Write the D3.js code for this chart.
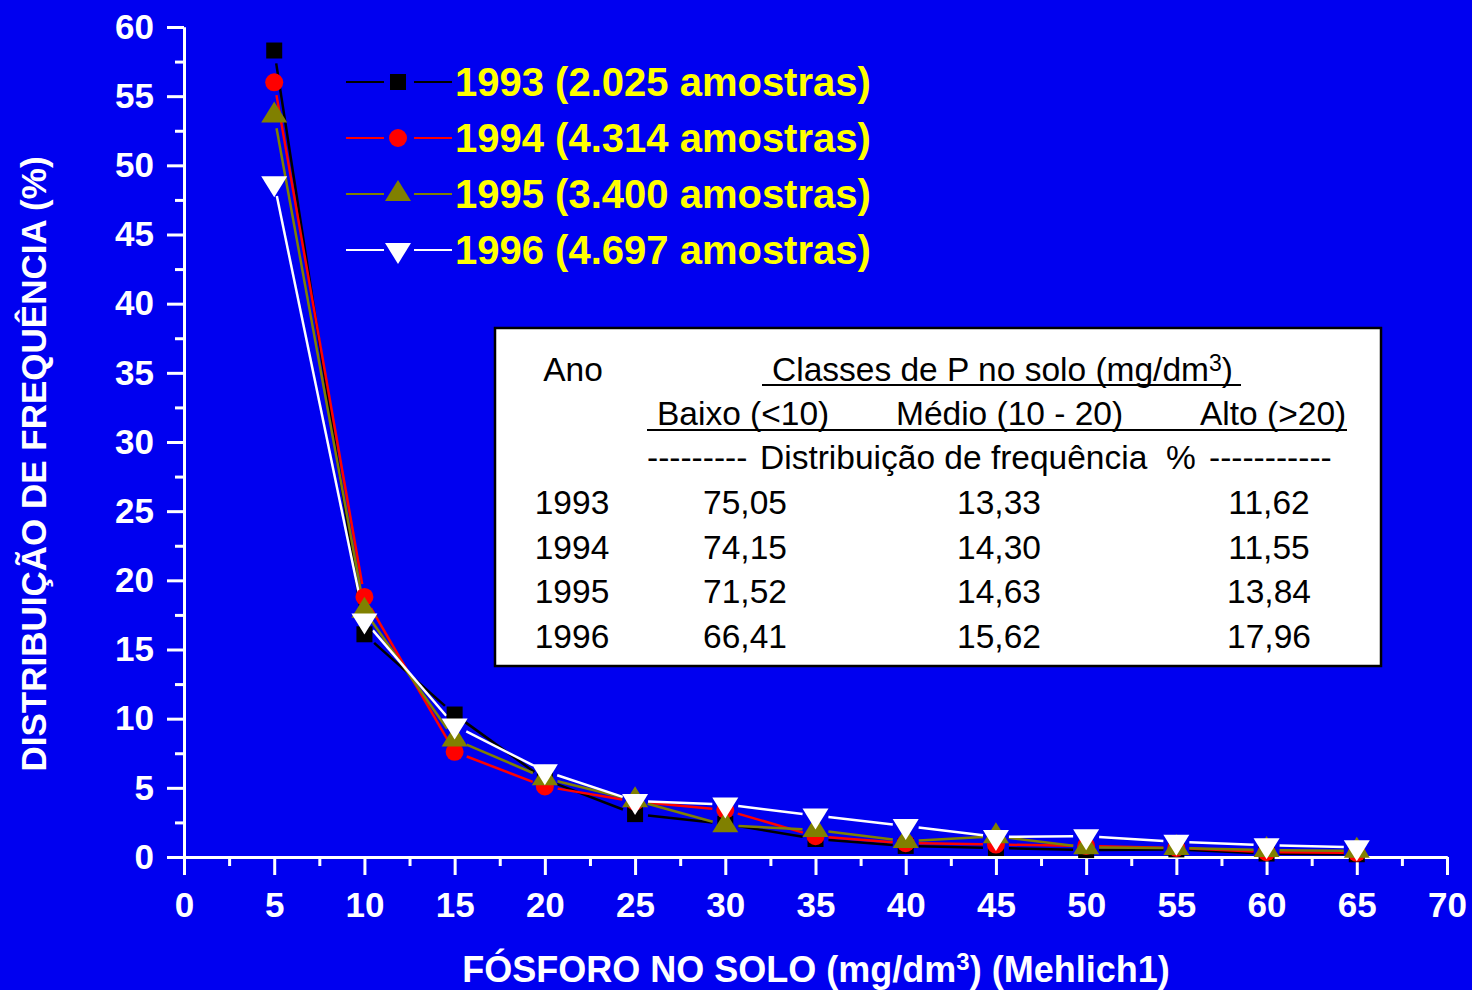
<!DOCTYPE html>
<html>
<head>
<meta charset="utf-8">
<script src="https://cdn.jsdelivr.net/npm/d3@7"></script>
<style>
  html, body { margin: 0; padding: 0; background: #0000F0; }
  svg { display: block; }
  text { font-family: "Liberation Sans", Arial, sans-serif; }
</style>
</head>
<body>
<div id="chart"></div>
<script>
// fósforo (mg/dm3)
var xValues = [5, 10, 15, 20, 25, 30, 35, 40, 45, 50, 55, 60, 65];

var y1993 = [58.3, 16.1, 10.3, 5.6, 3.1, 2.4, 1.3, 0.8, 0.65, 0.5, 0.55, 0.25, 0.2];
var y1994 = [56.0, 18.8, 7.6, 5.1, 4.0, 3.4, 1.5, 1.0, 0.9, 0.8, 0.65, 0.35, 0.3];
var y1995 = [53.6, 17.8, 8.5, 5.7, 4.1, 2.3, 1.95, 1.15, 1.5, 0.7, 0.65, 0.5, 0.45];
var y1996 = [48.7, 17.1, 9.5, 6.2, 4.05, 3.8, 3.0, 2.25, 1.45, 1.5, 1.1, 0.85, 0.7];

var seriesNames = ['1993 (2.025 amostras)', '1994 (4.314 amostras)', '1995 (3.400 amostras)', '1996 (4.697 amostras)'];

var xTicks = [0, 5, 10, 15, 20, 25, 30, 35, 40, 45, 50, 55, 60, 65, 70];
var yTicks = [0, 5, 10, 15, 20, 25, 30, 35, 40, 45, 50, 55, 60];

// tabela
var tableYears = ['1993', '1994', '1995', '1996'];
var tableBaixo = ['75,05', '74,15', '71,52', '66,41'];
var tableMedio = ['13,33', '14,30', '14,63', '15,62'];
var tableAlto = ['11,62', '11,55', '13,84', '17,96'];

var W = 1472, H = 990;

var svg = d3.select('#chart').append('svg')
    .attr('width', W)
    .attr('height', H);

svg.append('rect')
    .attr('width', W).attr('height', H)
    .attr('fill', '#0000F0');

var x = d3.scaleLinear().domain([0, 70]).range([184, 1447]);
var y = d3.scaleLinear().domain([0, 60]).range([857, 27]);

// eixos
svg.append('g')
    .attr('transform', 'translate(0,857)')
    .call(d3.axisBottom(x).tickValues(xTicks).tickSize(18).tickSizeOuter(0).tickPadding(17));
svg.append('g')
    .attr('transform', 'translate(0,857)')
    .call(d3.axisBottom(x).tickValues(d3.range(2.5, 70, 5)).tickSize(9).tickSizeOuter(0).tickFormat(''));

svg.append('g')
    .attr('transform', 'translate(184,0)')
    .call(d3.axisLeft(y).tickValues(yTicks).tickSize(17).tickSizeOuter(0).tickPadding(13));
svg.append('g')
    .attr('transform', 'translate(184,0)')
    .call(d3.axisLeft(y).tickValues(d3.range(2.5, 60, 5)).tickSize(9).tickSizeOuter(0).tickFormat(''));

svg.selectAll('.domain, .tick line')
    .attr('stroke', '#fff')
    .attr('stroke-width', 3);
svg.selectAll('.tick text')
    .attr('fill', '#fff')
    .style('font-size', '35px')
    .style('font-weight', 'bold')
    .style('font-family', '"Liberation Sans", Arial, sans-serif');

// títulos
var xt = svg.append('text')
    .attr('x', 816).attr('y', 982)
    .attr('text-anchor', 'middle')
    .attr('fill', '#fff')
    .style('font-size', '36px').style('font-weight', 'bold')
    .text('FÓSFORO NO SOLO (mg/dm');
xt.append('tspan').attr('dy', -12).style('font-size', '24px').text('3');
xt.append('tspan').attr('dy', 12).text(') (Mehlich1)');

svg.append('text')
    .attr('transform', 'translate(46,464) rotate(-90)')
    .attr('text-anchor', 'middle')
    .attr('fill', '#fff')
    .style('font-size', '35px').style('font-weight', 'bold')
    .text('DISTRIBUIÇÃO DE FREQUÊNCIA (%)');

// símbolos
function markerPath(kind) {
  if (kind === 'square') return 'M-8,-8H8V8H-8Z';
  if (kind === 'circle') return 'M9,0A9,9 0 1,1 -9,0A9,9 0 1,1 9,0Z';
  if (kind === 'up') return 'M0,-14L13,7L-13,7Z';
  return 'M0,14L13,-7L-13,-7Z';
}

var series = [
  {name: seriesNames[0], values: y1993, color: '#000000', marker: 'square'},
  {name: seriesNames[1], values: y1994, color: '#FF0000', marker: 'circle'},
  {name: seriesNames[2], values: y1995, color: '#808000', marker: 'up'},
  {name: seriesNames[3], values: y1996, color: '#FFFFFF', marker: 'down'}
];

var gap = 13;

series.forEach(function(s) {
  var segs = d3.pairs(xValues.map(function(v, i) { return [x(v), y(s.values[i])]; }))
      .map(function(p) {
        var dx = p[1][0] - p[0][0], dy = p[1][1] - p[0][1];
        var len = Math.sqrt(dx * dx + dy * dy);
        var ux = dx / len, uy = dy / len;
        return [p[0][0] + ux * gap, p[0][1] + uy * gap, p[1][0] - ux * gap, p[1][1] - uy * gap, len];
      })
      .filter(function(d) { return d[4] > 2 * gap; });

  svg.append('g').selectAll('line')
      .data(segs)
      .join('line')
      .attr('x1', function(d) { return d[0]; })
      .attr('y1', function(d) { return d[1]; })
      .attr('x2', function(d) { return d[2]; })
      .attr('y2', function(d) { return d[3]; })
      .attr('stroke', s.color)
      .attr('stroke-width', 2.5);
});

series.forEach(function(s) {
  svg.append('g').selectAll('path')
      .data(s.values)
      .join('path')
      .attr('transform', function(d, i) { return 'translate(' + x(xValues[i]) + ',' + y(d) + ')'; })
      .attr('d', markerPath(s.marker))
      .attr('fill', s.color);
});

// legenda
var legend = svg.append('g').selectAll('g')
    .data(series)
    .join('g')
    .attr('transform', function(d, i) { return 'translate(0,' + (82 + i * 56) + ')'; });

legend.append('line')
    .attr('x1', 346).attr('x2', 384).attr('y1', 0).attr('y2', 0)
    .attr('stroke', function(d) { return d.color; })
    .attr('stroke-width', 2);
legend.append('line')
    .attr('x1', 414).attr('x2', 452).attr('y1', 0).attr('y2', 0)
    .attr('stroke', function(d) { return d.color; })
    .attr('stroke-width', 2);
legend.append('path')
    .attr('transform', 'translate(398,0)')
    .attr('d', function(d) { return markerPath(d.marker); })
    .attr('fill', function(d) { return d.color; });
legend.append('text')
    .attr('x', 455).attr('y', 14)
    .attr('fill', '#FFFF00')
    .style('font-size', '40px').style('font-weight', 'bold')
    .text(function(d) { return d.name; });

// tabela
var tbl = svg.append('g');
tbl.append('rect')
    .attr('x', 495).attr('y', 328).attr('width', 886).attr('height', 338)
    .attr('fill', '#fff').attr('stroke', '#000').attr('stroke-width', 2.5);

var fs = '33.5px';

function tt(xp, yp, txt, anchor) {
  return tbl.append('text')
      .attr('x', xp).attr('y', yp)
      .attr('text-anchor', anchor || 'start')
      .attr('fill', '#000')
      .style('font-size', fs)
      .text(txt);
}

tt(573, 381, 'Ano', 'middle');
var cl = tt(772, 381, 'Classes de P no solo (mg/dm');
cl.append('tspan').attr('dy', -10).style('font-size', '23px').text('3');
cl.append('tspan').attr('dy', 10).text(')');
tbl.append('line').attr('x1', 762).attr('x2', 1241).attr('y1', 385).attr('y2', 385)
    .attr('stroke', '#000').attr('stroke-width', 2);

tt(657, 425, 'Baixo (<10)');
tt(896, 425, 'Médio (10 - 20)');
tt(1200, 425, 'Alto (>20)');
tbl.append('line').attr('x1', 647).attr('x2', 1347).attr('y1', 430).attr('y2', 430)
    .attr('stroke', '#000').attr('stroke-width', 2);

tt(647, 469, '---------');
tt(760, 469, 'Distribuição de frequência  %').attr('xml:space', 'preserve');
tt(1209, 469, '-----------');

var rows = tbl.append('g').selectAll('g')
    .data(tableYears)
    .join('g')
    .attr('transform', function(d, i) { return 'translate(0,' + (514 + i * 44.5) + ')'; });

rows.append('text').attr('x', 572).text(function(d) { return d; });
rows.append('text').attr('x', 745).text(function(d, i) { return tableBaixo[i]; });
rows.append('text').attr('x', 999).text(function(d, i) { return tableMedio[i]; });
rows.append('text').attr('x', 1269).text(function(d, i) { return tableAlto[i]; });
rows.selectAll('text')
    .attr('text-anchor', 'middle')
    .attr('fill', '#000')
    .style('font-size', fs);
</script>
</body>
</html>
